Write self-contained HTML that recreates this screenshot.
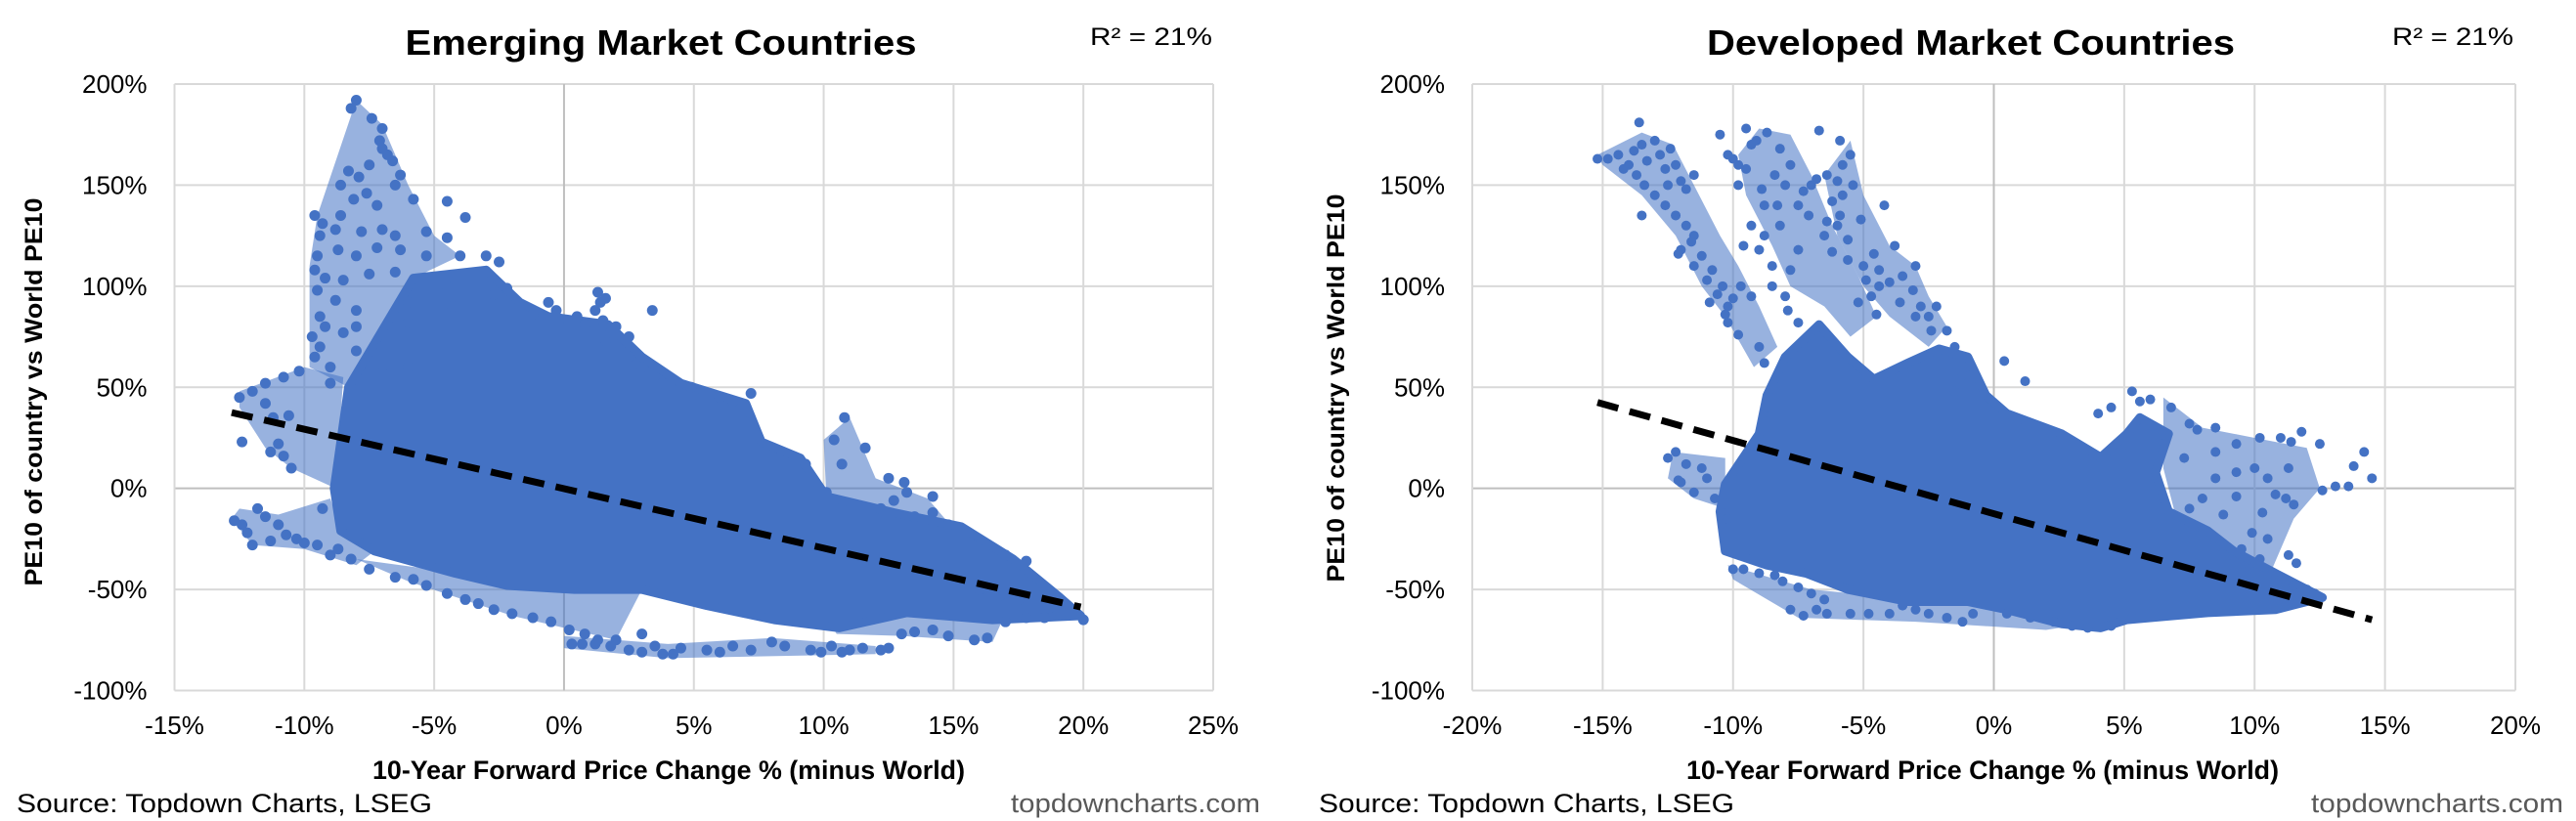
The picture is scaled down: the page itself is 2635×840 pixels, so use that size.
<!DOCTYPE html>
<html><head><meta charset="utf-8"><style>
html,body{margin:0;padding:0;background:#fff;}
svg{display:block;font-family:"Liberation Sans",Arial,sans-serif;}
</style></head><body>
<svg id="chart" width="2635" height="840" viewBox="0 0 2635 840" xmlns="http://www.w3.org/2000/svg">
<rect width="2635" height="840" fill="#fff"/>
<g id="em"></g>
<g id="dm"></g>
<text x="676" y="56" font-size="36" font-weight="bold" text-anchor="middle" textLength="523" lengthAdjust="spacingAndGlyphs">Emerging Market Countries</text>
<text x="1115" y="46" font-size="25" textLength="125" lengthAdjust="spacingAndGlyphs">R² = 21%</text>
<text transform="translate(43,401) rotate(-90)" font-size="25" font-weight="bold" text-anchor="middle" textLength="397" lengthAdjust="spacingAndGlyphs">PE10 of country vs World PE10</text>
<text x="684" y="797" font-size="27" font-weight="bold" text-anchor="middle" textLength="606" lengthAdjust="spacingAndGlyphs">10-Year Forward Price Change % (minus World)</text>
<text x="17" y="831" font-size="27" textLength="425" lengthAdjust="spacingAndGlyphs">Source: Topdown Charts, LSEG</text>
<text x="1034" y="831" font-size="27" fill="#595959" textLength="255" lengthAdjust="spacingAndGlyphs">topdowncharts.com</text>
<text x="2016" y="56" font-size="36" font-weight="bold" text-anchor="middle" textLength="540" lengthAdjust="spacingAndGlyphs">Developed Market Countries</text>
<text x="2447" y="46" font-size="25" textLength="124" lengthAdjust="spacingAndGlyphs">R² = 21%</text>
<text transform="translate(1375,397) rotate(-90)" font-size="25" font-weight="bold" text-anchor="middle" textLength="397" lengthAdjust="spacingAndGlyphs">PE10 of country vs World PE10</text>
<text x="2028" y="797" font-size="27" font-weight="bold" text-anchor="middle" textLength="606" lengthAdjust="spacingAndGlyphs">10-Year Forward Price Change % (minus World)</text>
<text x="1349" y="831" font-size="27" textLength="425" lengthAdjust="spacingAndGlyphs">Source: Topdown Charts, LSEG</text>
<text x="2364" y="831" font-size="27" fill="#595959" textLength="258" lengthAdjust="spacingAndGlyphs">topdowncharts.com</text>
</svg>
<script>
const yTicks = [-100, -50, 0, 50, 100, 150, 200];
const emXTicks = [-15, -10, -5, 0, 5, 10, 15, 20, 25];
const dmXTicks = [-20, -15, -10, -5, 0, 5, 10, 15, 20];
const emTrend = [[-12.8, 37.5], [19.9, -58.7]];
const dmTrend = [[-15.2, 42.5], [14.5, -65]];
const emCore = [[-8.85,0],[-8.3,50],[-5.8,104],[-3,108],[-1.7,92],[-0.6,85],[1.7,81],[3,65],[4.5,52],[7,42],[7.6,23],[9.1,15],[10.1,-4],[12.7,-12],[15.3,-19],[17.3,-35],[19.1,-54],[19.9,-63],[16.5,-65],[13.2,-61.5],[10.6,-69],[8.1,-65],[5.5,-58],[3,-50],[0.4,-50],[-2.2,-48],[-4.2,-42],[-7.3,-31],[-8.6,-21]];
const emBandPlume = [[-9.5,135],[-8,192],[-7,180],[-6,150],[-5,125],[-4,115],[-5.8,104],[-8.3,50],[-9.8,60],[-9.8,110]];
const emBandLeft = [[-12.5,48],[-10,60],[-8.5,55],[-8.8,0],[-10.5,10],[-11.5,20],[-12.5,40]];
const emBandLowLeft = [[-12.8,-15],[-12.5,-10],[-11,-13],[-9,-5],[-8.6,-21],[-7.3,-31],[-8,-38],[-10,-30],[-12,-28]];
const emBandLowMid = [[-8,-35],[-4,-42],[0,-50],[3,-50],[2,-75],[-2,-63],[-6,-46]];
const emBandBottom = [[0,-73],[4,-77],[8,-74],[12,-78],[12,-82],[4,-84],[0,-79]];
const emBandBottomRight = [[10,-62],[17,-62],[16.5,-76],[13,-73],[10.5,-72]];
const emBandRight = [[10,24],[11,35],[12,5],[14,-5],[15,-20],[12.7,-12],[10.1,-4]];
const emPoints = [[-8,192],[-8.2,188],[-7.4,183],[-7,178],[-7.1,172],[-7,168],[-6.8,165],[-6.6,162],[-7.5,160],[-8.3,157],[-8.6,150],[-7.9,154],[-6.3,155],[-6.5,150],[-7.6,146],[-8.1,143],[-5.8,143],[-7.2,140],[-8.6,135],[-9.6,135],[-9.3,131],[-8.8,128],[-7.8,127],[-7,128],[-6.5,125],[-5.3,127],[-4.5,142],[-3.8,134],[-4.5,124],[-9.4,125],[-9.5,115],[-8.7,118],[-8,115],[-7.2,119],[-6.3,118],[-5.3,115],[-4,115],[-3,115],[-2.5,112],[-9.6,108],[-9.2,104],[-8.5,103],[-7.5,106],[-6.5,107],[-9.5,98],[-8.8,93],[-8,88],[-9.4,85],[-9.2,80],[-8.5,77],[-9.7,75],[-9.4,70],[-9.6,65],[-9,60],[-10.2,58],[-10.8,55],[-11.5,52],[-12,48],[-12.5,45],[-11.5,42],[-10.6,36],[-11.2,35],[-12.4,23],[-11.3,18],[-10.8,16],[-10.5,10],[-11,22],[-12.7,-16],[-12.4,-18],[-12.2,-22],[-11.8,-10],[-11.5,-14],[-11,-18],[-10.7,-23],[-10.3,-25],[-10,-27],[-9.5,-28],[-12,-28],[-11.3,-26],[-9.3,-10],[-9,-33],[-8.7,-30],[-8.2,-35],[-7.5,-40],[-6.5,-44],[-5.8,-45],[-5.3,-48],[-4.5,-52],[-3.8,-55],[-3.3,-57],[-2.7,-60],[-2,-62],[-1.2,-64],[-0.5,-66],[0.2,-70],[0.8,-72],[1.3,-75],[2,-75],[3,-72],[3.5,-78],[4.5,-79],[5.5,-80],[6.5,-78],[7.2,-80],[8,-76],[8.5,-78],[9.5,-80],[10.3,-78],[11,-80],[11.5,-79],[12.2,-80],[0.3,-77],[0.7,-77],[1.2,-77],[1.8,-78],[2.5,-80],[3,-81],[3.8,-82],[4.2,-82],[6,-81],[9.9,-81],[10.7,-81],[12.5,-79],[13,-72],[13.5,-71],[14.2,-70],[14.8,-73],[15.8,-75],[16.3,-74],[17,-66],[17.8,-64],[18.5,-64],[19.3,-62],[20,-65],[18.7,-59],[17.5,-55],[16.8,-53],[16,-50],[17.8,-36],[17,-33],[15.5,-22],[14.8,-18],[14.2,-12],[13.5,-14],[12.7,-6],[12.2,-10],[13.2,-2],[14.2,-4],[12.5,5],[10.7,12],[11.6,20],[10.4,24],[13.1,3],[10.8,35],[9.3,12],[10.1,-2],[6.5,43],[7.2,47],[6,45],[4.9,50],[3.8,52],[3,60],[2.5,75],[2.5,65],[1.6,73],[1.8,77],[2,80],[1.5,83],[1.2,88],[1.4,92],[1.6,94],[1.3,97],[3.4,88],[-0.6,92],[-0.3,88],[-1.2,86],[0.5,85],[0.8,81],[-2.2,99],[-2.7,96],[-4.5,100],[-6,92],[-4.3,90],[-8,80],[-6,82],[-7,70],[-8,68],[-9,52],[-8,55],[-7,57],[-6,60]];
const dmCore = [[-10.3,2],[-9,27],[-8.7,46],[-8,65],[-6.7,81],[-5.6,65],[-4.6,54],[-3.3,62],[-2.1,69],[-1,65],[-0.3,46],[0.5,37],[2.6,27],[4.1,15.4],[5.1,27],[5.6,35],[6.7,27],[6.2,7.7],[6.7,-11.5],[8.2,-21],[9.2,-31],[10.8,-42],[12.6,-54],[10.8,-60],[8.2,-61.5],[5.1,-65],[4.1,-69],[2.6,-67],[0.5,-60],[-1,-56],[-3.3,-56],[-5.6,-50],[-7.2,-42],[-8.7,-38],[-10.3,-31],[-10.5,-11.5]];
const dmBandA = [[-15.2,165],[-13.5,176],[-12.3,170],[-11.5,150],[-10.5,125],[-9.8,110],[-9,90],[-8.3,70],[-9.2,60],[-10.3,85],[-11.2,100],[-12.2,125],[-13.5,145],[-15,160]];
const dmBandB = [[-9.8,165],[-9,178],[-7.8,175],[-7,155],[-6.2,130],[-5.2,105],[-4.5,85],[-5.5,75],[-6.5,90],[-7.8,100],[-8.5,120],[-9.5,145]];
const dmBandC = [[-6.5,155],[-5.5,172],[-5,145],[-4,120],[-3,110],[-2.5,95],[-1.8,80],[-2.5,70],[-4,85],[-5,100],[-6,125]];
const dmBandRight = [[6.5,45],[8,30],[10,25],[12,20],[12.5,0],[11.5,-15],[10.5,-45],[9,-30],[7,-15],[6.5,10]];
const dmBandLeft = [[-12.3,18],[-10.3,15],[-10.3,-10],[-11.5,-5],[-12.5,5]];
const dmBandBottom = [[-10.2,-38],[-7,-50],[-3,-55],[2,-62],[4,-66],[2,-70],[-3,-66],[-7.5,-64],[-10,-45]];
const dmPoints = [[-15.2,163],[-14.8,163],[-14.4,165],[-14,160],[-13.8,167],[-13.5,170],[-13.3,162],[-13,172],[-12.8,165],[-12.6,158],[-12.4,168],[-12.2,160],[-13.7,155],[-14.2,158],[-13.6,181],[-12,152],[-11.8,148],[-11.5,155],[-12.5,150],[-13,145],[-13.4,150],[-12.6,140],[-13.5,135],[-12.2,135],[-11.8,130],[-11.5,125],[-12,118],[-11.2,115],[-11.5,110],[-10.8,108],[-10.4,100],[-10.6,96],[-10,94],[-10.2,90],[-10.3,86],[-9.7,100],[-9.3,95],[-11,103],[-11.6,122],[-12.1,116],[-10.9,92],[-10.2,82],[-9.8,76],[-9,70],[-8.8,62],[-9.6,120],[-9.3,130],[-8.8,125],[-9,118],[-8.5,110],[-9.8,150],[-9.5,158],[-9.3,170],[-9.5,178],[-9.1,172],[-8.7,176],[-8.2,168],[-7.8,160],[-8.4,155],[-8.9,148],[-8,150],[-8.8,140],[-8.3,140],[-9.8,160],[-10.2,165],[-10.5,175],[-10,163],[-8.5,100],[-8,95],[-7.9,88],[-7.5,82],[-7.8,108],[-7.5,118],[-8.2,130],[-7.5,140],[-7,150],[-7.3,147],[-6.8,153],[-6.4,155],[-6,152],[-5.8,145],[-5.4,150],[-6.2,142],[-6,130],[-5.6,123],[-5.9,135],[-6.7,177],[-5.9,172],[-5.5,165],[-5.8,160],[-6.4,132],[-5.6,113],[-5,110],[-4.4,108],[-4.9,103],[-4.4,100],[-4.7,95],[-4,102],[-3.5,105],[-3,110],[-3.1,98],[-2.8,90],[-3.6,92],[-2.2,90],[-2.5,85],[-2.4,78],[-1.8,78],[-1.5,70],[-3,85],[-4.5,86],[-5.2,92],[-6.5,125],[-7.1,135],[-6.2,117],[-4.2,140],[-3.8,120],[-4.6,116],[-5.1,133],[-1.2,56],[0.4,63],[1.2,53],[-1.5,48],[4,37],[4.5,40],[5.3,48],[5.6,43],[6,44],[6.8,40],[7.5,32],[7.8,29],[8.5,30],[9.3,22],[10.2,25],[11,25],[11.4,23],[11.8,28],[12.5,22],[14.2,18],[13.8,11],[14.5,5],[12.6,-1],[13.1,1],[13.6,1],[11.3,10],[10.5,5],[10.8,-3],[11.2,-5],[11.5,-8],[10.3,-12],[9.9,-22],[10.5,-25],[9.5,-30],[10.2,-35],[9.8,-40],[11.3,-33],[11.6,-37],[11.5,-48],[12,-50],[12.3,-52],[8.5,5],[8,-5],[7.5,-10],[9.3,-4],[8.8,-13],[7.3,15],[8.5,18],[9.3,8],[10,10],[-12.2,18],[-11.8,12],[-11.2,10],[-12.5,15],[-11,5],[-12,3],[-11.5,-2],[-12.1,4],[-10.7,-5],[-10.2,-15],[-10,-40],[-9.6,-40],[-9,-42],[-8.4,-43],[-8.1,-46],[-7.5,-49],[-7,-52],[-6.5,-55],[-6.8,-60],[-6.4,-62],[-5.5,-62],[-4.8,-62],[-4,-62],[-3.5,-58],[-3,-60],[-2.5,-62],[-1.8,-64],[-1.2,-66],[-0.8,-62],[0.5,-62],[1.4,-64],[2.3,-66],[3,-68],[3.6,-69],[4.5,-68],[5.3,-64],[-7.3,-63],[-7.8,-60]];

const NS = 'http://www.w3.org/2000/svg';
function mk(tag, parent, attrs) {
  const e = document.createElementNS(NS, tag);
  for (const k in attrs) e.setAttribute(k, attrs[k]);
  parent.appendChild(e);
  return e;
}
function drawChart(gid, px0, px1, xTicks, core, bands, points, trend, r, prefix) {
  const g = document.getElementById(gid);
  const py0 = 86, py1 = 706.5;
  const xmin = xTicks[0], xmax = xTicks[xTicks.length - 1];
  const ymin = yTicks[0], ymax = yTicks[yTicks.length - 1];
  const sx = v => px0 + (v - xmin) / (xmax - xmin) * (px1 - px0);
  const sy = v => py1 - (v - ymin) / (ymax - ymin) * (py1 - py0);
  yTicks.forEach(t => {
    const ln = mk('line', g, {x1: px0, x2: px1, y1: sy(t), y2: sy(t), stroke: t === 0 ? '#bfbfbf' : '#d9d9d9', 'stroke-width': 2});
    
    
    const tx = mk('text', g, {x: px0 - 28, y: sy(t) + 9, 'font-size': 26, 'text-anchor': 'end', fill: '#000'});
    tx.textContent = t + '%';
    
    
  });
  xTicks.forEach(t => {
    const ln = mk('line', g, {x1: sx(t), x2: sx(t), y1: py0, y2: py1, stroke: t === 0 ? '#bfbfbf' : '#d9d9d9', 'stroke-width': 2});
    
    
    const tx = mk('text', g, {x: sx(t), y: 751, 'font-size': 26, 'text-anchor': 'middle', fill: '#000'});
    tx.textContent = t + '%';
    
    
  });
  bands.forEach(b => {
    const bp = mk('polygon', g, {points: b.map(p => sx(p[0]) + ',' + sy(p[1])).join(' '), fill: '#4472C4', 'fill-opacity': 0.55, stroke: 'none'});
    
    
  });
  const poly = mk('polygon', g, {points: core.map(p => sx(p[0]) + ',' + sy(p[1])).join(' '), fill: '#4472C4', stroke: '#4472C4', 'stroke-width': 9, 'stroke-linejoin': 'round'});
  
  
  points.forEach(p => {
    const c = mk('circle', g, {cx: sx(p[0]), cy: sy(p[1]), r: r, fill: '#4472C4'});
    
    
  });
  const tl = mk('line', g, {x1: sx(trend[0][0]), y1: sy(trend[0][1]), x2: sx(trend[1][0]), y2: sy(trend[1][1]), stroke: '#000', 'stroke-width': 7, 'stroke-dasharray': '22 12'});
  
  
}
drawChart('em', 178.5, 1241, emXTicks, emCore, [emBandPlume, emBandLeft, emBandLowLeft, emBandLowMid, emBandBottom, emBandBottomRight, emBandRight], emPoints, emTrend, 5.5, 'em');
drawChart('dm', 1506, 2573, dmXTicks, dmCore, [dmBandA, dmBandB, dmBandC, dmBandRight, dmBandLeft, dmBandBottom], dmPoints, dmTrend, 5, 'dm');
</script>
</body></html>
